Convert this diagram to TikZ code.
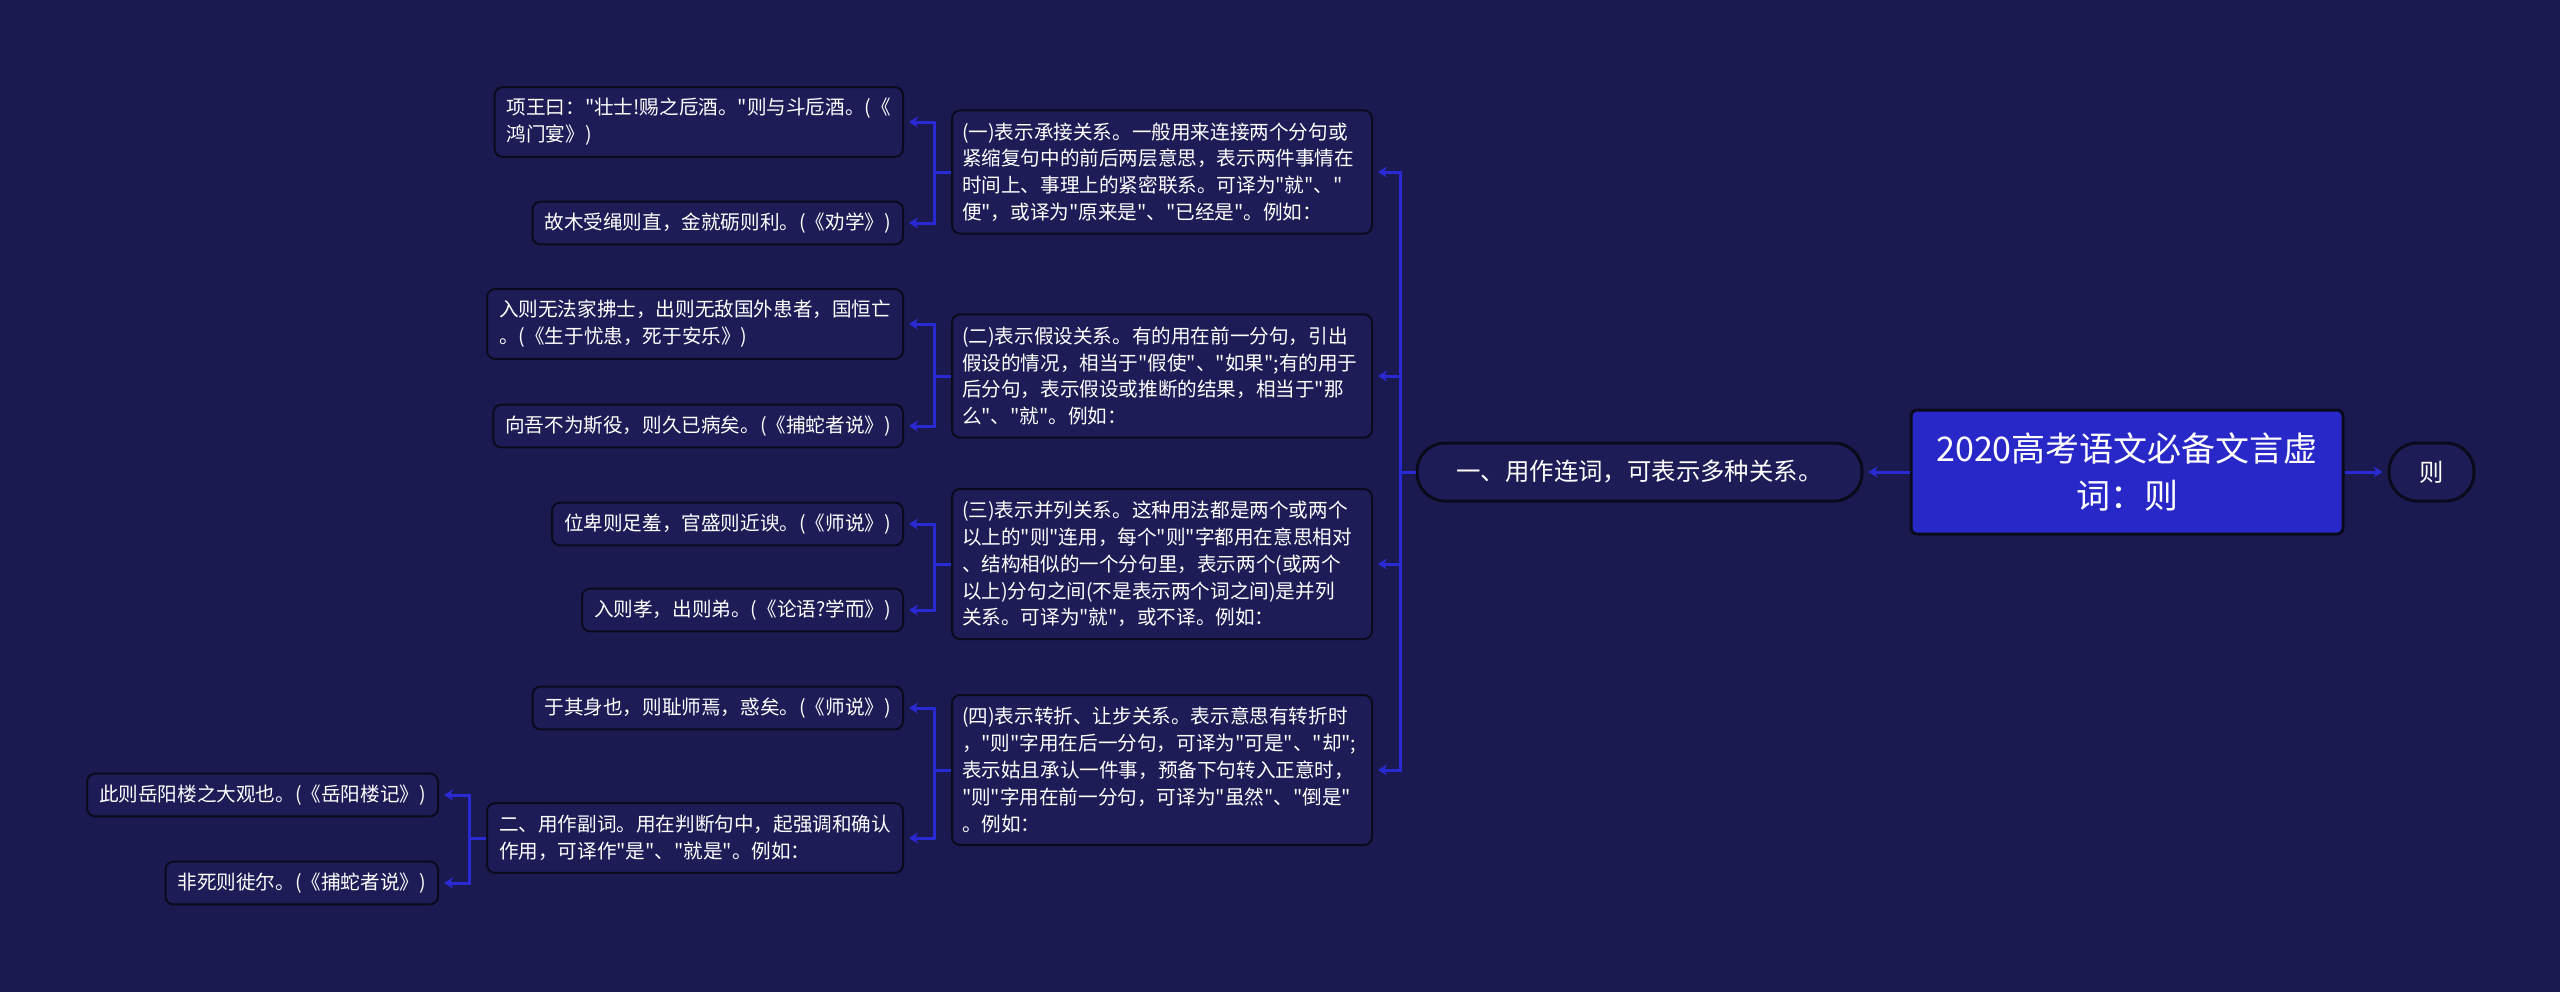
\documentclass[tikz,border=0pt]{standalone}
\usepackage{fontspec}
\newfontfamily\cjk{Noto Sans CJK SC}
\usepackage{xcolor}
\usepackage{tikz}
\usetikzlibrary{arrows.meta}
\definecolor{bgnavy}{RGB}{27,26,80}
\definecolor{boxnavy}{RGB}{29,28,86}
\definecolor{edgedark}{RGB}{10,10,28}
\definecolor{linkblue}{RGB}{42,42,212}
\definecolor{rootblue}{RGB}{40,40,200}

\begin{document}
\begin{tikzpicture}[x=0.5pt, y=-0.5pt, >={Stealth[length=4.5pt,width=5.5pt]},
  every node/.style={text=white},
  card/.style={draw=edgedark, line width=1pt, fill=boxnavy, rounded corners=4pt, inner xsep=6pt, inner ysep=2pt, align=left, font=\cjk\fontsize{9.8pt}{13.4pt}\selectfont},
  clause/.style={card, text width=200pt, inner xsep=5pt},
  rows/.style={minimum height={#1*13.4pt+8pt}},
  pill/.style={draw=edgedark, line width=1.5pt, fill=boxnavy, rounded corners=14pt, minimum height=29pt, font=\cjk\fontsize{12.2pt}{15pt}\selectfont},
  link/.style={->, draw=linkblue, line width=1.5pt, shorten >=2.5pt}]
  \fill[bgnavy] (0,0) rectangle (2560,992);
  \useasboundingbox (0,0) rectangle (2560,992);

  \node[pill, fill=rootblue, rounded corners=3pt, minimum width=216pt, minimum height=62pt, align=center, font=\cjk\fontsize{17pt}{23.7pt}\selectfont] (root) at (2127,472) {2020高考语文必备文言虚\\词：则};
  \node[pill, minimum width=42.5pt] (ze) at (2431.5,472) {则};
  \node[pill, minimum width=222.5pt] (use1) at (1639.5,472) {一、用作连词，可表示多种关系。};

  \node[clause, rows=4, anchor=west] (cheng) at (951,172) {(一)表示承接关系。一般用来连接两个分句或\\紧缩复句中的前后两层意思，表示两件事情在\\时间上、事理上的紧密联系。可译为"就"、"\\便"，或译为"原来是"、"已经是"。例如：};
  \node[clause, rows=4, anchor=west] (jia) at (951,376) {(二)表示假设关系。有的用在前一分句，引出\\假设的情况，相当于"假使"、"如果";有的用于\\后分句，表示假设或推断的结果，相当于"那\\么"、"就"。例如：};
  \node[clause, rows=5, anchor=west] (bing) at (951,564) {(三)表示并列关系。这种用法都是两个或两个\\以上的"则"连用，每个"则"字都用在意思相对\\、结构相似的一个分句里，表示两个(或两个\\以上)分句之间(不是表示两个词之间)是并列\\关系。可译为"就"，或不译。例如：};
  \node[clause, rows=5, anchor=west] (zhuan) at (951,770) {(四)表示转折、让步关系。表示意思有转折时\\，"则"字用在后一分句，可译为"可是"、"却";\\表示姑且承认一件事，预备下句转入正意时，\\"则"字用在前一分句，可译为"虽然"、"倒是"\\。例如：};

  \node[card, rows=2, anchor=east] (xiang) at (904,122) {项王曰："壮士!赐之卮酒。"则与斗卮酒。(《\\鸿门宴》)};
  \node[card, rows=1, anchor=east] (quan) at (904,223) {故木受绳则直，金就砺则利。(《劝学》)};
  \node[card, rows=2, anchor=east] (sheng) at (904,324) {入则无法家拂士，出则无敌国外患者，国恒亡\\。(《生于忧患，死于安乐》)};
  \node[card, rows=1, anchor=east] (bushe) at (904,426) {向吾不为斯役，则久已病矣。(《捕蛇者说》)};
  \node[card, rows=1, anchor=east] (shi1) at (904,524) {位卑则足羞，官盛则近谀。(《师说》)};
  \node[card, rows=1, anchor=east] (lunyu) at (904,610) {入则孝，出则弟。(《论语?学而》)};
  \node[card, rows=1, anchor=east] (shi2) at (904,708) {于其身也，则耻师焉，惑矣。(《师说》)};
  \node[card, rows=2, anchor=east] (use2) at (904,838) {二、用作副词。用在判断句中，起强调和确认\\作用，可译作"是"、"就是"。例如：};
  \node[card, rows=1, anchor=east] (yueyang) at (439,795) {此则岳阳楼之大观也。(《岳阳楼记》)};
  \node[card, rows=1, anchor=east] (bushe2) at (439,883) {非死则徙尔。(《捕蛇者说》)};

  \draw[link] (root.east) -- (ze.west);
  \draw[link] (root.west) -- (use1.east);
  \coordinate (spine) at (1400,472);
  \foreach \c in {cheng,jia,bing,zhuan}
    \draw[link] (use1.west) -- (spine) |- (\c.east);
  \foreach \p/\a/\b in {cheng/xiang/quan, jia/sheng/bushe, bing/shi1/lunyu, zhuan/shi2/use2, use2/yueyang/bushe2}{
    \draw[link] (\p.west) -- ++(-17,0) |- (\a.east);
    \draw[link] (\p.west) -- ++(-17,0) |- (\b.east);
  }
\end{tikzpicture}
\end{document}
